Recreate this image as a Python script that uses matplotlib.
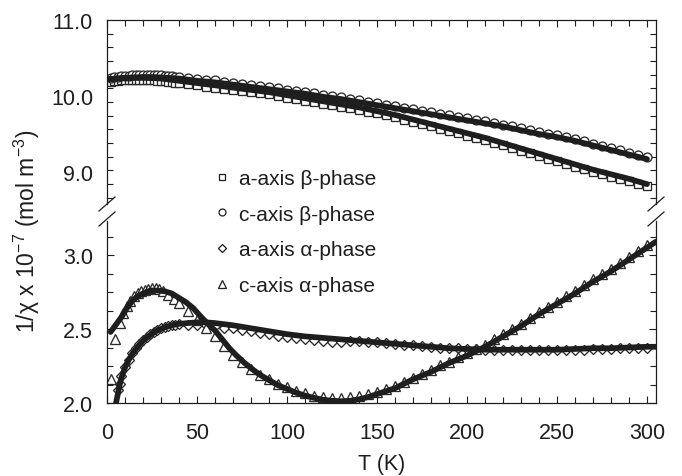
import numpy as np
import matplotlib
matplotlib.use('Agg')
import matplotlib.pyplot as plt
from matplotlib.lines import Line2D
from matplotlib.ticker import MultipleLocator, FixedLocator

plt.rcParams['font.family'] = ['Liberation Sans', 'DejaVu Sans']
plt.rcParams['mathtext.fontset'] = 'custom'
plt.rcParams['mathtext.rm'] = 'Liberation Sans'
plt.rcParams['mathtext.default'] = 'regular'

# ---- beta phase (upper panel), measured points ----
T_beta = [2, 4, 6, 8, 10, 12, 14, 16, 18, 20, 22, 24, 26, 28, 30, 32, 34, 36, 38, 40,
          45, 50, 55, 60, 65, 70, 75, 80, 85, 90, 95, 100, 105, 110, 115, 120, 125, 130,
          135, 140, 145, 150, 155, 160, 165, 170, 175, 180, 185, 190, 195, 200, 205, 210,
          215, 220, 225, 230, 235, 240, 245, 250, 255, 260, 265, 270, 275, 280, 285, 290, 295, 300]
c_beta = [10.24, 10.25, 10.25, 10.26, 10.26, 10.265, 10.27, 10.27, 10.27, 10.275,
          10.275, 10.275, 10.27, 10.27, 10.27, 10.265, 10.26, 10.26, 10.255, 10.25,
          10.24, 10.225, 10.215, 10.205, 10.19, 10.175, 10.16, 10.145, 10.13, 10.115,
          10.10, 10.085, 10.07, 10.055, 10.035, 10.015, 10.0, 9.985,
          9.965, 9.945, 9.925, 9.905, 9.885, 9.865, 9.845, 9.825, 9.805, 9.785,
          9.765, 9.745, 9.725, 9.705, 9.685, 9.665,
          9.645, 9.625, 9.60, 9.575, 9.55, 9.525, 9.505, 9.485, 9.46, 9.435,
          9.405, 9.375, 9.345, 9.315, 9.285, 9.255, 9.225, 9.195]
a_beta = [10.19, 10.20, 10.20, 10.205, 10.21, 10.21, 10.21, 10.21, 10.21, 10.21,
          10.21, 10.205, 10.205, 10.20, 10.20, 10.195, 10.19, 10.185, 10.175, 10.17,
          10.155, 10.14, 10.125, 10.11, 10.095, 10.08, 10.065, 10.05, 10.035, 10.02,
          10.0, 9.98, 9.96, 9.94, 9.92, 9.90, 9.88, 9.86,
          9.84, 9.82, 9.795, 9.77, 9.745, 9.72, 9.69, 9.66, 9.63, 9.60,
          9.57, 9.54, 9.51, 9.48, 9.45, 9.42,
          9.385, 9.35, 9.315, 9.28, 9.245, 9.21, 9.175, 9.14, 9.105, 9.07,
          9.035, 9.00, 8.97, 8.94, 8.91, 8.88, 8.845, 8.81]

# ---- beta phase fits ----
T_fit_beta = [1, 5, 10, 15, 20, 25, 30, 40, 50, 60, 70, 80, 90, 100, 110, 120, 130,
              140, 150, 160, 170, 180, 190, 200, 210, 220, 230, 240, 250, 260, 270,
              280, 290, 300]
c_beta_fit = [10.22, 10.23, 10.24, 10.245, 10.25, 10.25, 10.245, 10.23, 10.20, 10.18,
              10.15, 10.12, 10.09, 10.06, 10.03, 9.99, 9.96, 9.92, 9.88, 9.84, 9.80,
              9.76, 9.72, 9.68, 9.64, 9.60, 9.55, 9.50, 9.46, 9.41, 9.35, 9.29, 9.23, 9.17]
a_beta_fit = [10.22, 10.23, 10.235, 10.24, 10.24, 10.235, 10.23, 10.20, 10.17, 10.14,
              10.11, 10.08, 10.05, 10.01, 9.97, 9.93, 9.89, 9.85, 9.80, 9.75, 9.69,
              9.63, 9.57, 9.51, 9.45, 9.38, 9.31, 9.24, 9.17, 9.10, 9.03, 8.97, 8.91, 8.84]

# ---- alpha phase (lower panel), measured points ----
T_tri = [2, 4.5, 7, 9, 11, 13, 15, 17, 19, 21, 23, 25, 27, 29, 31, 34, 37, 40,
         45, 50, 55, 60, 65, 70, 75, 80, 85, 90, 95, 100, 105, 110, 115, 120, 125, 130,
         135, 140, 145, 150, 155, 160, 165, 170, 175, 180, 185, 190, 195, 200, 205, 210,
         215, 220, 225, 230, 235, 240, 245, 250, 255, 260, 265, 270, 275, 280, 285, 290, 295, 300]
c_alpha = [2.16, 2.43, 2.54, 2.61, 2.655, 2.69, 2.72, 2.74, 2.755, 2.765, 2.77, 2.775,
           2.775, 2.77, 2.76, 2.73, 2.705, 2.675,
           2.62, 2.56, 2.51, 2.45, 2.385, 2.325, 2.275, 2.23, 2.19, 2.16, 2.13, 2.105,
           2.08, 2.065, 2.05, 2.04, 2.035, 2.035,
           2.04, 2.05, 2.06, 2.075, 2.095, 2.115, 2.14, 2.17, 2.195, 2.225, 2.255, 2.28,
           2.31, 2.335, 2.365, 2.395,
           2.43, 2.465, 2.50, 2.535, 2.575, 2.615, 2.65, 2.685, 2.72, 2.755, 2.795,
           2.835, 2.87, 2.905, 2.945, 2.985, 3.025, 3.07]
T_dia = [6, 7, 8, 10, 12, 14, 16, 18, 20, 22, 24, 26, 28, 30, 32, 34, 36, 38, 40,
         45, 50, 55, 60, 65, 70, 75, 80, 85, 90, 95, 100, 105, 110, 115, 120, 125, 130,
         135, 140, 145, 150, 155, 160, 165, 170, 175, 180, 185, 190, 195, 200, 205, 210,
         215, 220, 225, 230, 235, 240, 245, 250, 255, 260, 265, 270, 275, 280, 285, 290, 295, 300]
a_alpha = [2.09, 2.13, 2.18, 2.24, 2.29, 2.335, 2.37, 2.40, 2.425, 2.445, 2.465, 2.48,
           2.495, 2.505, 2.515, 2.52, 2.525, 2.53, 2.535,
           2.53, 2.525, 2.525, 2.52, 2.51, 2.505, 2.495, 2.485, 2.475, 2.465, 2.455,
           2.445, 2.44, 2.43, 2.425, 2.42, 2.415, 2.41,
           2.42, 2.42, 2.415, 2.41, 2.405, 2.40, 2.395, 2.39, 2.385, 2.38, 2.375, 2.37,
           2.37, 2.365, 2.365, 2.36,
           2.355, 2.355, 2.355, 2.355, 2.355, 2.355, 2.355, 2.355, 2.36, 2.36, 2.36,
           2.365, 2.365, 2.365, 2.37, 2.37, 2.37, 2.375]

# ---- alpha phase fits ----
T_fit_c_alpha = [2, 5, 8, 11, 14, 17, 20, 24, 28, 32, 36, 40, 44, 48, 52, 56, 60, 64,
                 68, 72, 76, 80, 85, 90, 95, 100, 105, 110, 115, 120, 125, 130, 135,
                 140, 145, 150, 155, 160, 165, 170, 175, 180, 185, 190, 195, 200,
                 210, 220, 230, 240, 250, 260, 270, 280, 290, 300, 305]
c_alpha_fit = [2.48, 2.53, 2.58, 2.64, 2.69, 2.72, 2.74, 2.76, 2.76, 2.755, 2.74, 2.71,
               2.68, 2.64, 2.585, 2.535, 2.49, 2.43, 2.37, 2.32, 2.275, 2.235,
               2.19, 2.155, 2.12, 2.095, 2.07, 2.05, 2.035, 2.022, 2.015, 2.012, 2.015,
               2.025, 2.04, 2.06, 2.08, 2.10, 2.13, 2.16, 2.185, 2.21, 2.24, 2.27,
               2.295, 2.32, 2.38, 2.45, 2.52, 2.60, 2.67, 2.74, 2.82, 2.89, 2.97, 3.05, 3.09]
T_fit_a_alpha = [5, 6, 7, 8, 10, 12, 14, 17, 20, 24, 28, 32, 36, 40, 45, 50, 55, 60,
                 70, 80, 90, 100, 110, 120, 130, 140, 150, 160, 170, 180, 190, 200,
                 210, 220, 230, 240, 250, 260, 270, 280, 290, 300, 305]
a_alpha_fit = [2.00, 2.06, 2.12, 2.17, 2.24, 2.29, 2.33, 2.38, 2.42, 2.46, 2.49, 2.51,
               2.525, 2.535, 2.54, 2.545, 2.545, 2.54,
               2.525, 2.505, 2.485, 2.465, 2.45, 2.44, 2.43, 2.42, 2.41, 2.40, 2.39,
               2.38, 2.37, 2.365, 2.36, 2.36, 2.36, 2.36, 2.36, 2.365, 2.37, 2.37,
               2.375, 2.38, 2.38]

labels = ['a-axis \u03b2-phase', 'c-axis \u03b2-phase',
          'a-axis \u03b1-phase', 'c-axis \u03b1-phase']

W, H = 682, 477
ink = '#1e1e1e'
fig = plt.figure(figsize=(W / 100, H / 100), dpi=100)
ax_top = fig.add_axes([107 / W, 1 - 205 / H, 549 / W, 184 / H])
ax_bot = fig.add_axes([107 / W, 1 - 404 / H, 549 / W, 182 / H])

mk = dict(ls='none', mfc='white', mec='#2a2a2a', mew=0.95, zorder=2)
ln = dict(color=ink, lw=4.1, zorder=3, solid_capstyle='round')

ax_top.plot(T_beta, a_beta, marker='s', ms=6.0, **mk)
ax_top.plot(T_beta, c_beta, marker='o', ms=6.4, **mk)
ax_top.plot(T_fit_beta, a_beta_fit, **ln)
ax_top.plot(T_fit_beta, c_beta_fit, **ln)

ax_bot.plot(T_dia, a_alpha, marker='D', ms=5.2, **mk)
ax_bot.plot(T_tri, c_alpha, marker='^', ms=7.5, **mk)
ax_bot.plot(T_fit_a_alpha, a_alpha_fit, **ln)
ax_bot.plot(T_fit_c_alpha, c_alpha_fit, **ln)

for ax in (ax_top, ax_bot):
    ax.set_xlim(0, 305)
    ax.xaxis.set_major_locator(MultipleLocator(50))
    ax.xaxis.set_minor_locator(MultipleLocator(10))
    ax.tick_params(which='both', direction='in', left=True, right=True, colors=ink,
                   width=0.8, labelsize=15.5, labelcolor=ink)
    ax.tick_params(which='major', length=5)
    ax.tick_params(which='minor', length=4)
    ax.tick_params(axis='y', pad=10)
    for s in ax.spines.values():
        s.set_linewidth(0.9)
        s.set_color(ink)

# upper panel
ax_top.set_ylim(11.0 - 184 / 76, 11.0)
ax_top.set_yticks([9.0, 10.0, 11.0])
ax_top.set_yticklabels(['9.0', '10.0', '11.0'])
ax_top.yaxis.set_minor_locator(FixedLocator(np.arange(11.0, 8.55, -0.18)))
ax_top.tick_params(axis='y', which='major', length=0)
ax_top.tick_params(axis='x', which='both', top=True, bottom=False, labelbottom=False)
ax_top.spines['bottom'].set_visible(False)

# lower panel
ax_bot.set_ylim(2.0, 2.0 + 182 / 148)
ax_bot.set_yticks([2.0, 2.5, 3.0])
ax_bot.set_yticklabels(['2.0', '2.5', '3.0'])
ax_bot.yaxis.set_minor_locator(MultipleLocator(0.125))
ax_bot.tick_params(axis='x', which='both', top=False, bottom=True, pad=14)
ax_bot.spines['top'].set_visible(False)
ax_bot.set_xlabel('T (K)', fontsize=15.5, color=ink, labelpad=7)

# axis-break marks
for x0 in (107, 656):
    for yc in (205, 220):
        fig.add_artist(Line2D([(x0 - 8) / W, (x0 + 8) / W],
                              [1 - (yc + 7) / H, 1 - (yc - 7) / H],
                              transform=fig.transFigure, color=ink, lw=0.9))

fig.text(27 / W, 1 - 231 / H, '1/\u03c7 x 10$^{-7}$ (mol m$^{-3}$)',
         rotation=90, ha='center', va='center', fontsize=16.5, color=ink)

hk = dict(ls='none', mfc='white', mec=ink, mew=0.9)
handles = [Line2D([], [], marker='s', ms=5, **hk),
           Line2D([], [], marker='o', ms=5, **hk),
           Line2D([], [], marker='D', ms=4, **hk),
           Line2D([], [], marker='^', ms=5.5, **hk)]
leg = fig.legend(handles, labels, loc='upper left', bbox_to_anchor=(215 / W, 1 - 170 / H),
                 frameon=False, fontsize=15, handlelength=0.7, handletextpad=0.45,
                 labelspacing=0.8, borderpad=0, borderaxespad=0)
for t in leg.get_texts():
    t.set_color(ink)

fig.savefig('out.png', dpi=100)
